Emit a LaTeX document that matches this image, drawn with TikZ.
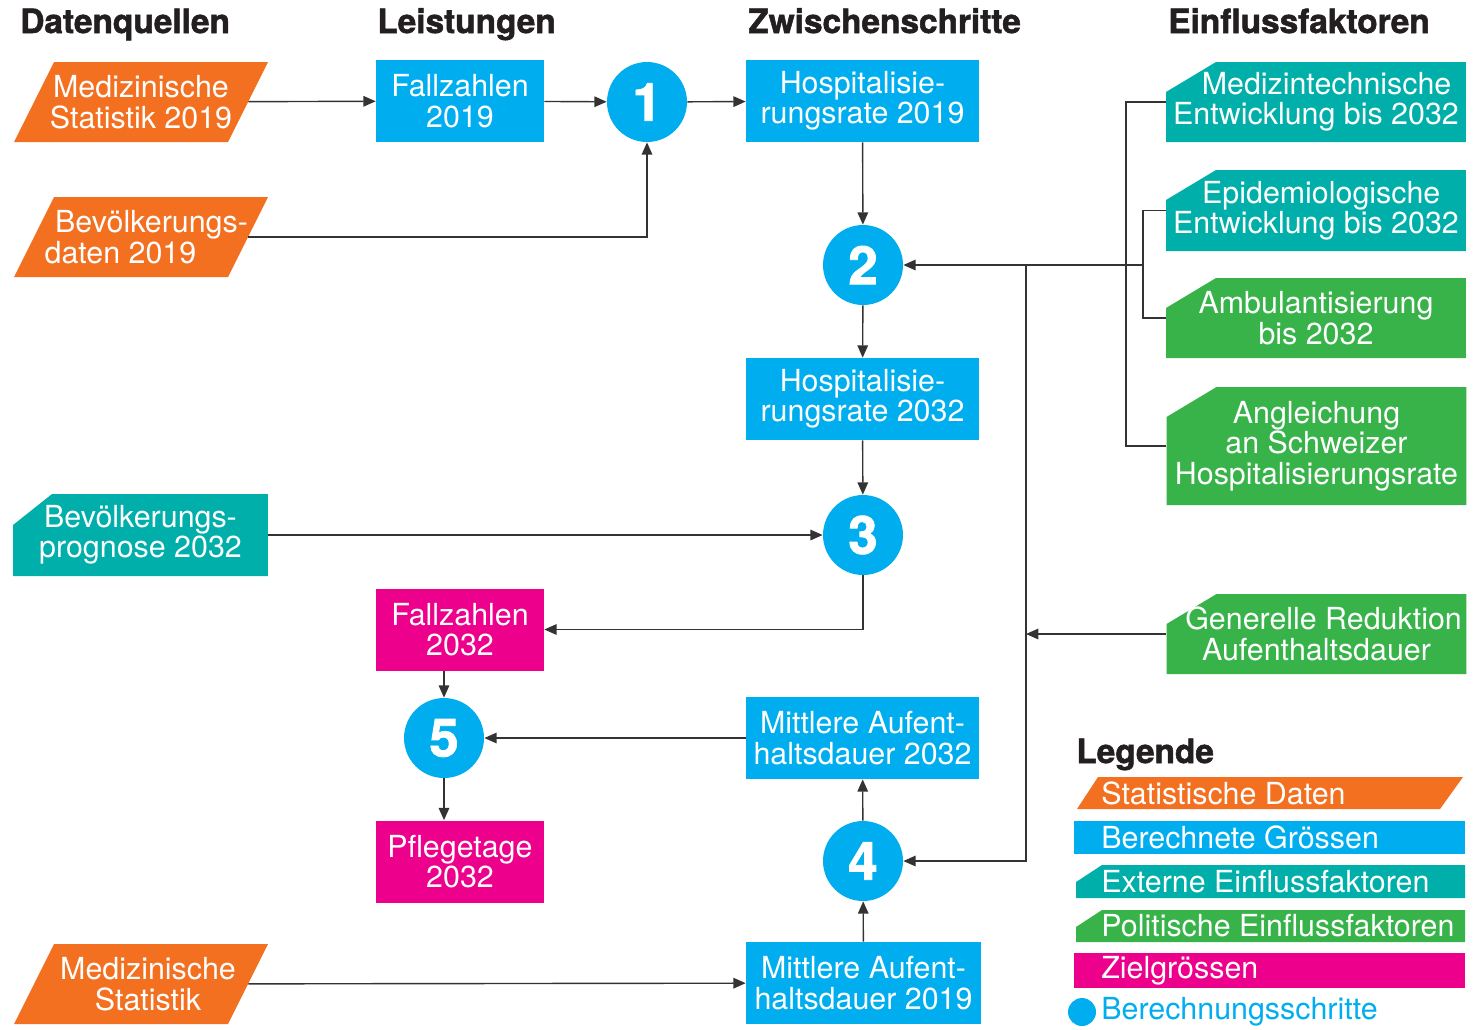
\documentclass[tikz,border=0pt]{standalone}
\usepackage{fontspec}
\setmainfont{TeX Gyre Heros}
\newfontfamily\heavyfont{TeX Gyre Heros}[BoldFeatures={FakeBold=1.6}]
\usetikzlibrary{arrows.meta,calc}
\definecolor{cOr}{HTML}{F37021}
\definecolor{cBl}{HTML}{00AEEF}
\definecolor{cTe}{HTML}{00AFA9}
\definecolor{cGr}{HTML}{37B34A}
\definecolor{cPk}{HTML}{EC008C}
\definecolor{cLn}{HTML}{333333}
\definecolor{cHd}{HTML}{231F20}
\newcommand\parnode[5]{%
  \fill[cOr] (#2-87,#3-40) -- (#2+127,#3-40) -- (#2+87,#3+40) -- (#2-127,#3+40) -- cycle;
  \node[ghost, #4] (#1) at (#2,#3) {#5};}
\begin{document}
\begin{tikzpicture}[x=0.02cm,y=-0.02cm,
  txt/.style={font=\fontsize{17.3}{17.3}\selectfont, text=white, align=center, inner sep=0pt},
  box/.style={txt, rectangle, fill=#1, minimum height=1.64cm},
  sbox/.style={box=#1, minimum width=3.36cm},
  wbox/.style={box=#1, minimum width=4.66cm},
  num/.style={circle, fill=cBl, minimum size=1.6cm, inner sep=0pt, text=white, font=\heavyfont\fontsize{30}{30}\selectfont\bfseries},
  ghost/.style={txt, rectangle, minimum width=4.28cm, minimum height=1.6cm},
  cutbox/.style n args={3}{txt, rectangle, fill=white, path picture={\fill[#1] ([yshift=-#3]path picture bounding box.north west) -- ([xshift=#2]path picture bounding box.north west) -- (path picture bounding box.north east) -- (path picture bounding box.south east) -- (path picture bounding box.south west) -- cycle;}},
  hdr/.style={font=\heavyfont\fontsize{19}{19}\selectfont\bfseries, text=cHd, anchor=base west, inner sep=0pt},
  arr/.style={draw=cLn, line width=0.8pt, -{Triangle[length=7pt,width=6pt]}},
  ln/.style={draw=cLn, line width=0.8pt}
]
\useasboundingbox (0,0) rectangle (1473,1029);

% headers
\node[hdr] (hA) at (20,33) {Datenquellen};
\node[hdr] (hB) at (377,33) {Leistungen};
\node[hdr] (hC) at (748,33) {Zwischenschritte};
\node[hdr] (hD) at (1168,33) {Einflussfaktoren};

% data sources
\parnode{p1}{141}{102}{}{Medizinische\\Statistik 2019}
\parnode{p2}{141}{237}{align=left}{\hspace*{12pt}Bevölkerungs-\\\hspace*{6pt}daten 2019}
\parnode{p3}{141}{984}{}{\hspace*{8pt}Medizinische\\\hspace*{8pt}Statistik}
\node[cutbox={cTe}{0.78cm}{0.62cm}, minimum width=5.1cm, minimum height=1.64cm] (bp) at (140.5,535) {Bevölkerungs-\\prognose 2032};

% computed
\node[sbox=cBl] (f19) at (460,101) {Fallzahlen\\2019};
\node[wbox=cBl] (h19) at (862.5,101) {Hospitalisie-\\rungsrate 2019};
\node[wbox=cBl] (h32) at (862.5,399) {Hospitalisie-\\rungsrate 2032};
\node[wbox=cBl] (m32) at (862.5,738) {Mittlere Aufent-\\haltsdauer 2032};
\node[wbox=cBl, minimum width=4.7cm] (m19) at (863.5,983) {Mittlere Aufent-\\haltsdauer 2019};
\node[sbox=cPk] (f32) at (460,629.5) {Fallzahlen\\2032};
\node[sbox=cPk] (pf) at (460,861.5) {Pflegetage\\2032};

% steps
\node[num] (c1) at (647,102) {1};
\node[num] (c2) at (863,265) {2};
\node[num] (c3) at (863,535) {3};
\node[num] (c4) at (863,861) {4};
\node[num] (c5) at (444,738) {5};

% factors
\node[cutbox={cTe}{1.0cm}{0.6cm}, minimum width=6cm, minimum height=1.6cm] (mt) at (1316,102) {\hspace*{12pt}Medizintechnische\\Entwicklung bis 2032};
\node[cutbox={cTe}{1.0cm}{0.6cm}, minimum width=6cm, minimum height=1.62cm] (ep) at (1316,210.5) {\hspace*{6pt}Epidemiologische\\Entwicklung bis 2032};
\node[cutbox={cGr}{1.0cm}{0.6cm}, minimum width=6cm, minimum height=1.6cm] (amb) at (1316,318) {Ambulantisierung\\bis 2032};
\node[cutbox={cGr}{1.0cm}{0.6cm}, minimum width=6cm, minimum height=2.36cm] (ang) at (1316.5,446) {Angleichung\\an Schweizer\\Hospitalisierungsrate};
\node[cutbox={cGr}{1.0cm}{0.6cm}, minimum width=6cm, minimum height=1.6cm] (gr) at (1316.5,634) {\hspace*{8pt}Generelle Reduktion\\Aufenthaltsdauer};

% connectors
\draw[arr] (p1) -- (f19);
\draw[arr] (f19) -- (c1);
\draw[arr] (c1) -- (h19);
\draw[arr] (p2.east) -| (c1.south);
\draw[arr] (h19) -- (c2);
\draw[arr] (c2) -- (h32);
\draw[arr] (h32) -- (c3);
\draw[arr] (bp) -- (c3);
\draw[arr] (c3.south) |- (f32.east);
\draw[arr] (f32.south -| c5.north) -- (c5.north);
\draw[arr] (m32) -- (c5);
\draw[arr] (c5.south) -- (c5.south |- pf.north);
\draw[arr] (p3) -- (m19);
\draw[arr] (m19) -- (c4);
\draw[arr] (c4) -- (m32);

\coordinate (bo) at (1126,265);
\coordinate (bi) at (1143,265);
\coordinate (vt) at (1026,265);
\draw[ln] (mt.west) -| (bo) |- (ang.west);
\draw[ln] (ep.west) -| (bi) |- (amb.west);
\draw[arr] (bi) -- (c2);
\draw[arr] (vt) |- (c4);
\draw[arr] (gr.west) -- (gr.west -| vt);

% legend
\node[hdr] (lg) at (1076,763) {Legende};
\fill[cOr] (1098,777) -- (1463,777) -- (1440,809) -- (1077,809) -- cycle;
\node[txt, anchor=west] (l1) at (1101,793) {Statistische Daten};
\fill[cBl] (1074,821) rectangle (1465,854);
\node[txt, anchor=west] (l2) at (1101,837.5) {Berechnete Grössen};
\fill[cTe] (1076,882) -- (1102,865) -- (1465,865) -- (1465,898) -- (1076,898) -- cycle;
\node[txt, anchor=west] (l3) at (1101,881.5) {Externe Einflussfaktoren};
\fill[cGr] (1076,927) -- (1102,910) -- (1465,910) -- (1465,942) -- (1076,942) -- cycle;
\node[txt, anchor=west] (l4) at (1101,926) {Politische Einflussfaktoren};
\fill[cPk] (1074,953) rectangle (1465,988);
\node[txt, anchor=west] (l5) at (1101,970.5) {Zielgrössen};
\node[circle, fill=cBl, minimum size=0.56cm, inner sep=0pt] (lc) at (1082,1012) {};
\node[txt, anchor=west, text=cBl] (l6) at (1101,1012) {Berechnungsschritte};
\end{tikzpicture}
\end{document}
